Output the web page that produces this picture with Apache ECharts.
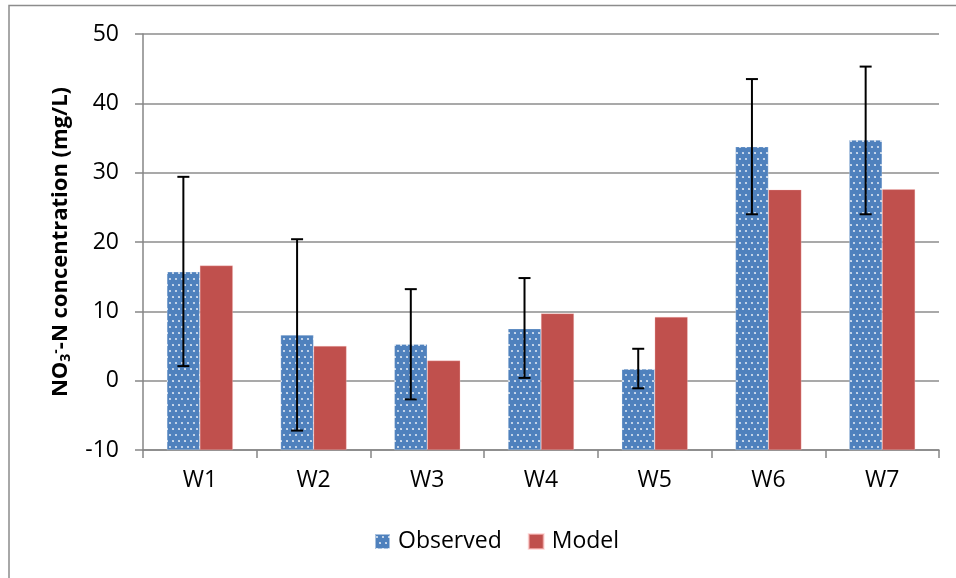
<!DOCTYPE html>
<html>
<head>
<meta charset="utf-8">
<script src="https://cdn.jsdelivr.net/npm/echarts@6/dist/echarts.min.js"></script>
<style>
html,body{margin:0;padding:0;background:#fff;}
#chart{width:956px;height:578px;}
</style>
</head>
<body>
<div id="chart"></div>
<script>
var categories = ['W1','W2','W3','W4','W5','W6','W7'];
var observed = [15.7, 6.6, 5.25, 7.5, 1.7, 33.75, 34.7];
var model = [16.6, 5.0, 2.9, 9.7, 9.2, 27.55, 27.6];
var errLow = [2.1, -7.2, -2.7, 0.4, -1.1, 24.0, 24.0];
var errHigh = [29.4, 20.4, 13.2, 14.8, 4.6, 43.5, 45.3];
var yTicks = [-10, 0, 10, 20, 30, 40, 50];

var FONT = '"Open Sans", "DejaVu Sans", sans-serif';
var BAR_W = 0.29;

function makeDots() {
  var c = document.createElement('canvas');
  c.width = 6; c.height = 12;
  var g = c.getContext('2d');
  g.fillStyle = '#4F81BD';
  g.fillRect(0, 0, 6, 12);
  g.fillStyle = 'rgba(255,255,255,0.8)';
  g.beginPath(); g.arc(2, 3, 1.1, 0, Math.PI * 2); g.fill();
  g.beginPath(); g.arc(5, 9, 1.1, 0, Math.PI * 2); g.fill();
  return c;
}
var dotPattern = { image: makeDots(), repeat: 'repeat' };

var chart = echarts.init(document.getElementById('chart'), null, {renderer: 'canvas'});

var errData = categories.map(function (c, i) { return [i, errLow[i], errHigh[i]]; });

var option = {
  animation: false,
  textStyle: { fontFamily: FONT },
  graphic: [
    { type: 'polyline', shape: { points: [[9, 578], [9, 5.5], [956, 5.5]] },
      style: { stroke: '#8c8c8c', lineWidth: 1.5, fill: null }, silent: true }
  ],
  grid: { left: 143, right: 17, top: 34, bottom: 128, containLabel: false },
  legend: {
    data: ['Observed', 'Model'],
    bottom: 20, left: 369,
    itemWidth: 15, itemHeight: 15, itemGap: 26,
    icon: 'rect',
    textStyle: { fontSize: 23, color: '#000', fontFamily: FONT, padding: [0, 0, 0, 3] }
  },
  xAxis: {
    type: 'category',
    data: categories,
    axisLine: { onZero: false, lineStyle: { color: '#868686', width: 1.5 } },
    axisTick: { show: true, length: 8, lineStyle: { color: '#868686', width: 1.5 } },
    axisLabel: { fontSize: 23, color: '#000', margin: 19, fontFamily: FONT },
    splitLine: { show: false }
  },
  yAxis: {
    type: 'value',
    min: yTicks[0], max: yTicks[yTicks.length - 1], interval: 10,
    startValue: -10,
    name: 'NO{sub|3}{sup|-}-N concentration (mg/L)',
    nameLocation: 'middle',
    nameGap: 70,
    nameRotate: 90,
    nameTextStyle: {
      fontSize: 22, fontWeight: 'bold', color: '#000', fontFamily: FONT,
      rich: {
        sub: { fontSize: 14, fontWeight: 'bold', verticalAlign: 'bottom', padding: [10, 0, 0, 0], fontFamily: FONT },
        sup: { fontSize: 14, fontWeight: 'bold', verticalAlign: 'top', padding: [0, 0, 10, 0], fontFamily: FONT }
      }
    },
    axisLine: { show: true, lineStyle: { color: '#868686', width: 1.5 } },
    axisTick: { show: true, length: 8, lineStyle: { color: '#868686', width: 1.5 } },
    axisLabel: { fontSize: 23, color: '#000', margin: 24, fontFamily: FONT },
    splitLine: { show: true, lineStyle: { color: '#8c8c8c', width: 1.5 } }
  },
  series: [
    {
      name: 'Observed', type: 'bar', data: observed,
      barWidth: (BAR_W * 100) + '%', barGap: '0%',
      itemStyle: { color: dotPattern, borderColor: 'rgba(255,255,255,0.5)', borderWidth: 0.5 }
    },
    {
      name: 'Model', type: 'bar', data: model,
      barWidth: (BAR_W * 100) + '%', barGap: '0%',
      itemStyle: { color: '#C0504D', borderColor: 'rgba(255,200,200,0.6)', borderWidth: 0.5 }
    },
    {
      name: 'err', type: 'custom', data: errData, z: 10, silent: true,
      encode: { x: 0, y: [1, 2] },
      renderItem: function (params, api) {
        var band = api.size([1, 0])[0];
        var off = -band * BAR_W / 2;
        var lo = api.coord([api.value(0), api.value(1)]);
        var hi = api.coord([api.value(0), api.value(2)]);
        var x = lo[0] + off;
        var cap = 6;
        var st = { stroke: '#000', lineWidth: 2 };
        return {
          type: 'group',
          children: [
            { type: 'line', shape: { x1: x, y1: lo[1], x2: x, y2: hi[1] }, style: st },
            { type: 'line', shape: { x1: x - cap, y1: lo[1], x2: x + cap, y2: lo[1] }, style: st },
            { type: 'line', shape: { x1: x - cap, y1: hi[1], x2: x + cap, y2: hi[1] }, style: st }
          ]
        };
      }
    }
  ]
};
chart.setOption(option);
</script>
</body>
</html>
